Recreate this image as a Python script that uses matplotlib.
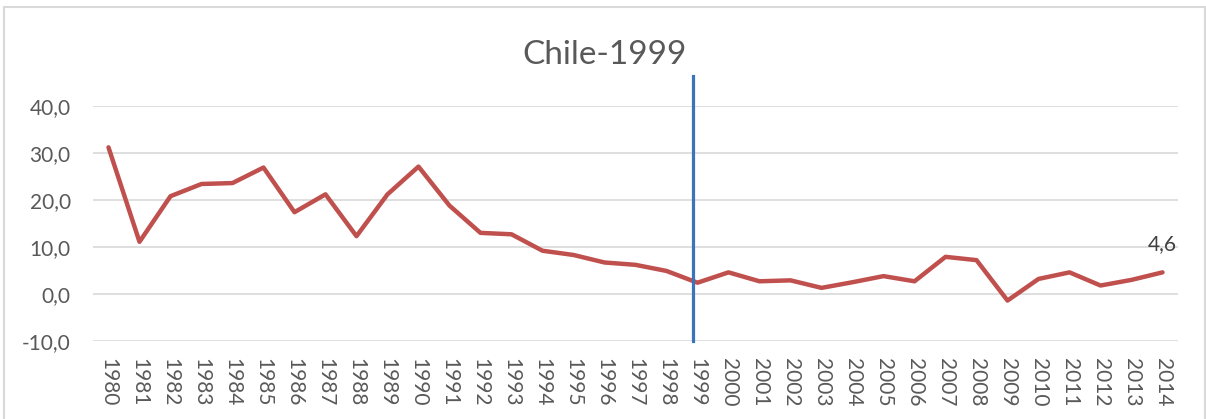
import matplotlib.pyplot as plt
from matplotlib.patches import Rectangle

# Chile inflation, 1980-2014
years = [str(y) for y in range(1980, 2015)]
inflation = [31.2, 11.1, 20.8, 23.4, 23.6, 26.9, 17.4, 21.2, 12.3, 21.2,
             27.1, 18.8, 13.0, 12.7, 9.2, 8.3, 6.7, 6.2, 4.9, 2.4,
             4.6, 2.7, 2.9, 1.3, 2.5, 3.8, 2.7, 7.9, 7.2, -1.4,
             3.2, 4.6, 1.8, 3.0, 4.6]
yticks = [-10, 0, 10, 20, 30, 40]
marker_year = "1999"
last_label = "4,6"

plt.rcParams['font.family'] = ['Lato', 'DejaVu Sans']

fig = plt.figure(figsize=(12.06, 4.19), dpi=100)
ax = fig.add_axes([0.0771, 0.1862, 0.8997, 0.5609])

x = list(range(len(years)))
ax.plot(x, inflation, color='#C0504D', linewidth=3.2,
        solid_joinstyle='round', solid_capstyle='round', zorder=3)

# vertical marker at 1999
xi = years.index(marker_year) - 0.15
ax.plot([xi, xi], [-10, 46.4], color='#3C74B9', linewidth=2.3,
        clip_on=False, zorder=4)

# label on the last point
ax.annotate(last_label, (x[-1], inflation[-1]), xytext=(0, 13),
            textcoords='offset points', ha='center', va='bottom',
            fontsize=15, color='#404040')

ax.set_xlim(-0.5, len(years) - 0.5)
ax.set_ylim(-10, 40)
ax.set_yticks(yticks)
ax.set_yticklabels([f"{v:.1f}".replace('.', ',') for v in yticks])
ax.set_xticks(x)
ax.set_xticklabels(years, rotation=-90)
ax.tick_params(axis='both', length=0, labelsize=15, labelcolor='#595959')
ax.tick_params(axis='y', pad=16)
ax.tick_params(axis='x', pad=12)

ax.grid(axis='y', color='#D9D9D9', linewidth=1.2)
ax.set_axisbelow(True)
for s in ax.spines.values():
    s.set_visible(False)

# title centred on the whole chart
fig.text(605 / 1206, 1 - 64 / 419, "Chile-1999", fontsize=24,
         color='#595959', ha='center', va='baseline')

# light frame around the chart
fig.patches.append(Rectangle((4 / 1206, -0.05), 1201 / 1206, 1.05 - 7 / 419,
                             transform=fig.transFigure, fill=False,
                             edgecolor='#D9D9D9', linewidth=1.5))

plt.savefig("out.png", dpi=100)
